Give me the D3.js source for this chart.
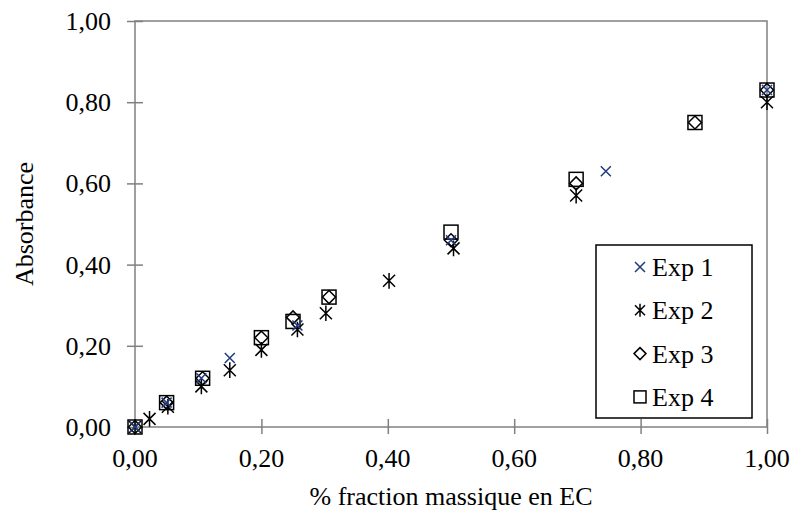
<!DOCTYPE html>
<html>
<head>
<meta charset="utf-8">
<script src="https://cdn.jsdelivr.net/npm/d3@7"></script>
<style>
  body { margin: 0; background: #fff; }
  svg text { font-family: "Times New Roman", "Liberation Serif", Times, serif; fill: #000; }
</style>
</head>
<body>
<div id="chart"></div>
<script>
let w = 794
let h = 516
let margin = {left: 135, right: 27, top: 21, bottom: 89}

let ticks = [0, 0.2, 0.4, 0.6, 0.8, 1.0]

let exp1X = [0, 0.05, 0.105, 0.15, 0.257, 0.50, 0.745, 1.0]
let exp1Y = [0, 0.06, 0.12, 0.17, 0.25, 0.46, 0.63, 0.83]

let exp2X = [0, 0.023, 0.052, 0.105, 0.15, 0.20, 0.257, 0.302, 0.402, 0.504, 0.698, 1.0]
let exp2Y = [0, 0.02, 0.05, 0.10, 0.14, 0.19, 0.24, 0.28, 0.36, 0.44, 0.57, 0.80]

let exp3X = [0, 0.05, 0.107, 0.20, 0.25, 0.307, 0.50, 0.698, 0.886, 1.0]
let exp3Y = [0, 0.06, 0.12, 0.22, 0.27, 0.32, 0.46, 0.60, 0.75, 0.83]

let exp4X = [0, 0.05, 0.107, 0.20, 0.25, 0.307, 0.50, 0.698, 0.886, 1.0]
let exp4Y = [0, 0.06, 0.12, 0.22, 0.26, 0.32, 0.48, 0.61, 0.75, 0.83]

let seriesNames = ["Exp 1", "Exp 2", "Exp 3", "Exp 4"]

let fmt = v => d3.format(".2f")(v).replace(".", ",")
let fontSize = 26

let svg = d3.select("#chart").append("svg")
  .attr("width", w)
  .attr("height", h)

let x = d3.scaleLinear().domain([0, 1]).range([margin.left, w - margin.right])
let y = d3.scaleLinear().domain([0, 1]).range([h - margin.bottom, margin.top])

// plot border
svg.append("rect")
  .attr("x", x(0)).attr("y", y(1))
  .attr("width", x(1) - x(0)).attr("height", y(0) - y(1))
  .attr("fill", "none").attr("stroke", "#808080").attr("stroke-width", 1.5)

// cross ticks
let xAxis = d3.axisBottom(x).tickValues(ticks).tickSize(8).tickFormat("")
let gx = svg.append("g").attr("transform", "translate(0," + y(0) + ")").call(xAxis)
gx.selectAll(".tick line").attr("y1", -8).attr("y2", 7)
let yAxis = d3.axisLeft(y).tickValues(ticks).tickSize(8).tickFormat("")
let gy = svg.append("g").attr("transform", "translate(" + x(0) + ",0)").call(yAxis)
gy.selectAll(".tick line").attr("x1", -8).attr("x2", 8)
svg.selectAll(".domain").remove()
svg.selectAll(".tick line").attr("stroke", "#808080").attr("stroke-width", 1.5)

// tick labels
svg.selectAll(".xl").data(ticks).enter().append("text")
  .attr("x", d => x(d)).attr("y", y(0) + 40)
  .attr("text-anchor", "middle").attr("font-size", fontSize)
  .text(fmt)
svg.selectAll(".yl").data(ticks).enter().append("text")
  .attr("x", x(0) - 24).attr("y", d => y(d) + 9)
  .attr("text-anchor", "end").attr("font-size", fontSize)
  .text(fmt)

svg.append("text")
  .attr("x", (x(0) + x(1)) / 2).attr("y", 505)
  .attr("text-anchor", "middle").attr("font-size", fontSize)
  .text("% fraction massique en EC")
svg.append("text")
  .attr("transform", "translate(33," + ((y(0) + y(1)) / 2) + ") rotate(-90)")
  .attr("text-anchor", "middle").attr("font-size", fontSize)
  .text("Absorbance")

// marker drawers
let drawX = (g, s, col) => g.append("path")
  .attr("d", `M${-s},${-s}L${s},${s}M${-s},${s}L${s},${-s}`)
  .attr("stroke", col).attr("stroke-width", 1.5).attr("fill", "none")
let drawStar = (g, s) => g.append("path")
  .attr("d", `M${-s},${-s}L${s},${s}M${-s},${s}L${s},${-s}M0,${-s * 1.3}L0,${s * 1.3}`)
  .attr("stroke", "#000").attr("stroke-width", 1.5).attr("fill", "none")
let drawDiamond = (g, s) => g.append("path")
  .attr("d", `M0,${-s}L${s},0L0,${s}L${-s},0Z`)
  .attr("stroke", "#000").attr("stroke-width", 1.5).attr("fill", "none")
let drawSquare = (g, s) => g.append("rect")
  .attr("x", -s).attr("y", -s).attr("width", 2 * s).attr("height", 2 * s)
  .attr("stroke", "#000").attr("stroke-width", 1.5).attr("fill", "none")

let blue = "#1f3a7e"

let plotSeries = (xs, ys, fn) => {
  svg.append("g").selectAll("g").data(d3.zip(xs, ys)).enter().append("g")
    .attr("transform", d => "translate(" + x(d[0]) + "," + y(d[1]) + ")")
    .each(function () { fn(d3.select(this)) })
}

plotSeries(exp4X, exp4Y, g => drawSquare(g, 7))
plotSeries(exp3X, exp3Y, g => drawDiamond(g, 6.5))
plotSeries(exp2X, exp2Y, g => drawStar(g, 6))
plotSeries(exp1X, exp1Y, g => drawX(g, 5, blue))

// legend
let legend = svg.append("g")
legend.append("rect")
  .attr("x", 596).attr("y", 245).attr("width", 156).attr("height", 173)
  .attr("fill", "#fff").attr("stroke", "#000").attr("stroke-width", 1.5)
let legendFns = [
  g => drawX(g, 5, blue),
  g => drawStar(g, 5),
  g => drawDiamond(g, 6),
  g => drawSquare(g, 6)
]
seriesNames.forEach((name, i) => {
  let cy = 267 + i * 43.3
  let g = legend.append("g").attr("transform", "translate(640," + cy + ")")
  legendFns[i](g)
  legend.append("text").attr("x", 652).attr("y", cy + 9)
    .attr("font-size", fontSize).text(name)
})
</script>
</body>
</html>
